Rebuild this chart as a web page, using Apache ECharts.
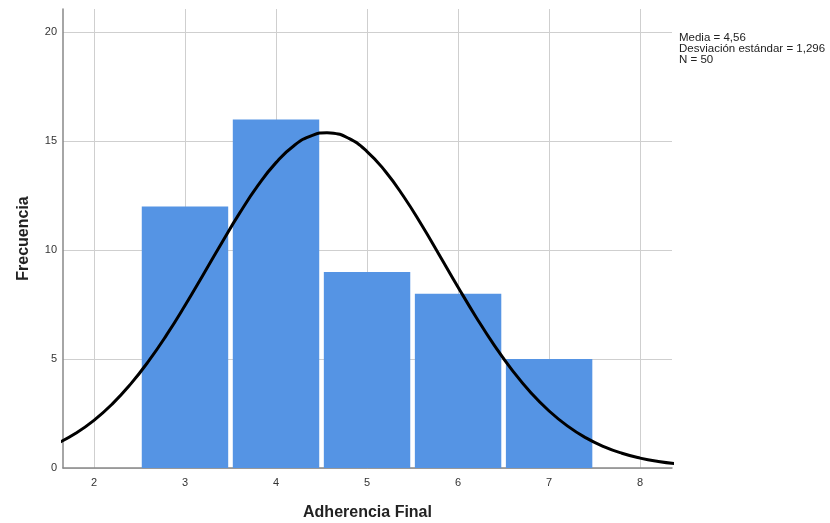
<!DOCTYPE html>
<html>
<head>
<meta charset="utf-8">
<script src="https://cdn.jsdelivr.net/npm/echarts@6/dist/echarts.min.js"></script>
<style>html,body{margin:0;padding:0;background:#fff}#c{width:830px;height:523px}</style>
</head>
<body>
<div id="c"></div>
<script>
// Histogram bins (centres) and frequencies
const binCenters = [3, 4, 5, 6, 7];
const frequencies = [12, 16, 9, 8, 5];
// Normal curve (x, frecuencia)
const curveX = [1.6,1.8,2.0,2.2,2.4,2.6,2.8,3.0,3.2,3.4,3.6,3.8,4.0,4.2,4.4,4.56,4.6,4.8,5.0,5.2,5.4,5.6,5.8,6.0,6.2,6.4,6.6,6.8,7.0,7.2,7.4,7.6,7.8,8.0,8.2,8.4];
const curveY = [1.133,1.594,2.188,2.932,3.838,4.904,6.120,7.458,8.874,10.310,11.698,12.959,14.018,14.807,15.273,15.39,15.383,15.128,14.528,13.623,12.474,11.153,9.737,8.301,6.911,5.617,4.458,3.456,2.616,1.933,1.394,0.983,0.676,0.454,0.298,0.191];
// Tick labels
const xTicks = [2, 3, 4, 5, 6, 7, 8];
const yTicks = [0, 5, 10, 15, 20];
const statsLines = ['Media = 4,56', 'Desviación estándar = 1,296', 'N = 50'];

const chart = echarts.init(document.getElementById('c'), null, {renderer: 'canvas'});
const font = '"Liberation Sans", Arial, sans-serif';
chart.setOption({
  animation: false,
  backgroundColor: '#fff',
  title: {
    text: statsLines.join('\n'),
    left: 679, top: 32, padding: 0,
    textStyle: {fontFamily: font, fontSize: 11.5, fontWeight: 'normal', color: '#222', lineHeight: 11}
  },
  grid: {left: 63, right: 158, top: 9, bottom: 55, containLabel: false, outerBoundsMode: 'none'},
  xAxis: {
    type: 'value', min: 1.66, max: 8.35,
    name: 'Adherencia Final', nameLocation: 'middle', nameGap: 37,
    nameTextStyle: {fontFamily: font, fontSize: 16, fontWeight: 'bold', color: '#222'},
    axisLine: {show: true, onZero: false, lineStyle: {color: '#888', width: 1.5}},
    axisTick: {show: false, customValues: xTicks},
    axisLabel: {customValues: xTicks, fontFamily: font, fontSize: 11, color: '#333', margin: 9},
    splitLine: {show: true, lineStyle: {color: '#cfcfcf', width: 1}}
  },
  yAxis: {
    type: 'value', min: 0, max: 21.07,
    name: 'Frecuencia', nameLocation: 'middle', nameGap: 31, nameRotate: 90,
    nameTextStyle: {fontFamily: font, fontSize: 16, fontWeight: 'bold', color: '#222'},
    axisLine: {show: true, lineStyle: {color: '#888', width: 1.5}},
    axisTick: {show: false, customValues: yTicks},
    axisLabel: {customValues: yTicks, fontFamily: font, fontSize: 11, color: '#333', margin: 6},
    splitLine: {show: true, lineStyle: {color: '#cfcfcf', width: 1}}
  },
  series: [
    {
      type: 'custom',
      data: binCenters.map((c, i) => [c, frequencies[i]]),
      renderItem: function (params, api) {
        const tl = api.coord([api.value(0) - 0.5, api.value(1)]);
        const br = api.coord([api.value(0) + 0.5, 0]);
        return {
          type: 'rect',
          shape: {x: tl[0] + 2.3, y: tl[1], width: br[0] - tl[0] - 4.6, height: br[1] - tl[1]},
          style: {fill: '#5594e4'}
        };
      },
      z: 2
    },
    {
      type: 'line',
      data: curveX.map((x, i) => [x, curveY[i]]),
      smooth: true, showSymbol: false, clip: true,
      lineStyle: {color: '#000', width: 3},
      z: 3
    }
  ]
});
</script>
</body>
</html>
